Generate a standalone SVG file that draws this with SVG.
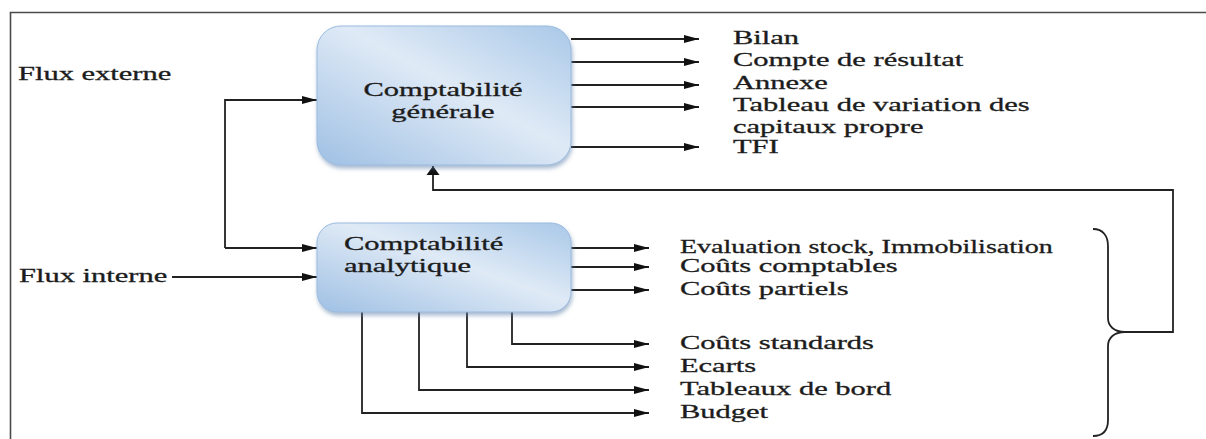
<svg xmlns="http://www.w3.org/2000/svg" width="1206" height="439" viewBox="0 0 1206 439">
  <style>
    .lbl { font-family: "Liberation Serif", "Times New Roman", serif; font-size: 18.5px; fill: #1c1c1c; stroke: #1c1c1c; stroke-width: 0.3px; }
    .ctr { text-anchor: middle; }
    .wire { fill: none; stroke: #222; stroke-width: 1.8; }
    .frame { fill: none; stroke: #4a4a4a; stroke-width: 1.6; }
    .box { fill: url(#boxFill); stroke: #9bbbe0; stroke-width: 1; filter: url(#boxShadow); }
  </style>
  <defs>
    <linearGradient id="boxFill" x1="0" y1="1" x2="1" y2="0">
      <stop offset="0" stop-color="#9fc0e4"/>
      <stop offset="0.55" stop-color="#dfeaf6"/>
      <stop offset="1" stop-color="#a9c8e8"/>
    </linearGradient>
    <filter id="boxShadow" x="-10%" y="-10%" width="120%" height="130%">
      <feDropShadow dx="1" dy="3" stdDeviation="2" flood-color="#5b7fa8" flood-opacity="0.55"/>
    </filter>
    <marker id="arrowH" markerUnits="userSpaceOnUse" markerWidth="16" markerHeight="10" viewBox="0 -5 16 10" refX="15" refY="0" orient="auto">
      <path d="M0,-4 L15,0 L0,4 z" fill="#111"/>
    </marker>
    <marker id="arrowV" markerUnits="userSpaceOnUse" markerWidth="10" markerHeight="14" viewBox="0 -7 10 14" refX="9" refY="0" orient="auto">
      <path d="M0,-6.5 L9,0 L0,6.5 z" fill="#111"/>
    </marker>
  </defs>

  <rect width="1206" height="439" fill="#ffffff"/>
  <!-- outer frame: open on the right and bottom -->
  <path class="frame" d="M10.5,439 V12.5 H1206"/>

  <!-- connectors -->
  <g id="connectors">
    <!-- shared feed into both accounting boxes -->
    <path class="wire" d="M225,248 V100 H317" marker-end="url(#arrowH)"/>
    <path class="wire" d="M225,248 H317" marker-end="url(#arrowH)"/>
    <!-- internal flow -->
    <path class="wire" d="M172,277 H317" marker-end="url(#arrowH)"/>
    <!-- general accounting outputs -->
    <path class="wire" d="M571,39 H699" marker-end="url(#arrowH)"/>
    <path class="wire" d="M571,62 H699" marker-end="url(#arrowH)"/>
    <path class="wire" d="M571,85 H699" marker-end="url(#arrowH)"/>
    <path class="wire" d="M571,107 H699" marker-end="url(#arrowH)"/>
    <path class="wire" d="M571,147 H699" marker-end="url(#arrowH)"/>
    <!-- analytic accounting outputs, right side -->
    <path class="wire" d="M571,248 H649" marker-end="url(#arrowH)"/>
    <path class="wire" d="M571,267 H649" marker-end="url(#arrowH)"/>
    <path class="wire" d="M571,290 H649" marker-end="url(#arrowH)"/>
    <!-- analytic accounting outputs, from the bottom edge -->
    <path class="wire" d="M512,312 V344 H649" marker-end="url(#arrowH)"/>
    <path class="wire" d="M467,312 V367 H649" marker-end="url(#arrowH)"/>
    <path class="wire" d="M419,312 V390 H649" marker-end="url(#arrowH)"/>
    <path class="wire" d="M362,312 V413 H649" marker-end="url(#arrowH)"/>
    <!-- feedback from the analytic results to general accounting -->
    <path class="wire" d="M1125,332 H1173 V190 H433 V166" marker-end="url(#arrowV)"/>
  </g>

  <!-- side labels -->
  <g id="flux-externe">
    <g transform="scale(1.65 1)"><text class="lbl" x="10.9" y="80">Flux externe</text></g>
  </g>
  <g id="flux-interne">
    <g transform="scale(1.65 1)"><text class="lbl" x="11.5" y="282">Flux interne</text></g>
  </g>

  <!-- general accounting node -->
  <g id="compta-generale">
    <rect class="box" x="317" y="26" width="254" height="139" rx="24"/>
    <g transform="scale(1.65 1)">
      <text class="lbl ctr" x="268.5" y="96">Comptabilité</text>
      <text class="lbl ctr" x="268.5" y="118">générale</text>
    </g>
  </g>

  <!-- analytic accounting node -->
  <g id="compta-analytique">
    <rect class="box" x="317" y="223" width="254" height="89" rx="20"/>
    <g transform="scale(1.65 1)">
      <text class="lbl" x="208.5" y="250">Comptabilité</text>
      <text class="lbl" x="208.5" y="272">analytique</text>
    </g>
  </g>

  <!-- financial statements -->
  <g id="etats-financiers">
    <g transform="scale(1.65 1)">
      <text class="lbl" x="444.2" y="44">Bilan</text>
      <text class="lbl" x="444.2" y="66">Compte de résultat</text>
      <text class="lbl" x="444.2" y="89">Annexe</text>
      <text class="lbl" x="444.2" y="111">Tableau de variation des</text>
      <text class="lbl" x="444.2" y="133">capitaux propre</text>
      <text class="lbl" x="444.2" y="153">TFI</text>
    </g>
  </g>

  <!-- management results -->
  <g id="resultats-analytiques">
    <g transform="scale(1.65 1)">
      <text class="lbl" x="412.1" y="253" textLength="226" lengthAdjust="spacingAndGlyphs">Evaluation stock, Immobilisation</text>
      <text class="lbl" x="412.1" y="272">Coûts comptables</text>
      <text class="lbl" x="412.1" y="295">Coûts partiels</text>
      <text class="lbl" x="412.1" y="349">Coûts standards</text>
      <text class="lbl" x="412.1" y="372">Ecarts</text>
      <text class="lbl" x="412.1" y="395">Tableaux de bord</text>
      <text class="lbl" x="412.1" y="418">Budget</text>
    </g>
  </g>

  <!-- brace grouping the analytic results -->
  <g id="accolade">
    <path class="wire" d="M1093,229 C1103,229 1108,236 1108,246 V318 C1108,326 1114,332 1125,332 C1114,332 1108,338 1108,346 V420 C1108,430 1103,436 1093,436"/>
  </g>
</svg>
